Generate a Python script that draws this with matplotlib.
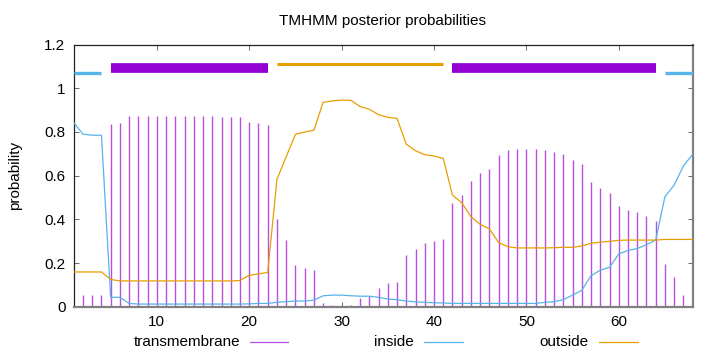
import matplotlib

matplotlib.use("Agg")
import matplotlib.pyplot as plt  # noqa: E402
from matplotlib.lines import Line2D  # noqa: E402
from matplotlib.ticker import FuncFormatter  # noqa: E402

plt.rcParams["font.family"] = ["Liberation Sans", "DejaVu Sans"]

positions = list(range(1, 69))

# posterior probabilities per residue
transmembrane = [
    0.0, 0.054, 0.055, 0.055, 0.837, 0.84, 0.873, 0.873, 0.873, 0.873,
    0.873, 0.873, 0.873, 0.873, 0.873, 0.873, 0.87, 0.87, 0.868, 0.847,
    0.84, 0.83, 0.40, 0.305, 0.19, 0.177, 0.168, 0.018, 0.008, 0.01,
    0.01, 0.04, 0.05, 0.087, 0.107, 0.112, 0.237, 0.266, 0.29, 0.30,
    0.31, 0.476, 0.513, 0.576, 0.614, 0.632, 0.696, 0.717, 0.72, 0.72,
    0.72, 0.716, 0.708, 0.699, 0.673, 0.653, 0.572, 0.545, 0.522, 0.462,
    0.443, 0.434, 0.415, 0.392, 0.195, 0.137, 0.054, 0.0,
]
inside = [
    0.843, 0.79, 0.785, 0.785, 0.043, 0.043, 0.015, 0.012, 0.012, 0.012,
    0.012, 0.012, 0.012, 0.012, 0.012, 0.012, 0.012, 0.012, 0.012, 0.013,
    0.015, 0.015, 0.02, 0.023, 0.026, 0.026, 0.03, 0.05, 0.053, 0.053,
    0.05, 0.048, 0.048, 0.043, 0.035, 0.032, 0.026, 0.022, 0.02, 0.018,
    0.017, 0.015, 0.015, 0.015, 0.015, 0.015, 0.015, 0.015, 0.015, 0.015,
    0.015, 0.02, 0.023, 0.032, 0.053, 0.075, 0.142, 0.167, 0.18, 0.241,
    0.258, 0.266, 0.284, 0.305, 0.504, 0.557, 0.644, 0.698,
]
outside = [
    0.159, 0.159, 0.159, 0.159, 0.125, 0.118, 0.118, 0.118, 0.118, 0.118,
    0.118, 0.118, 0.118, 0.118, 0.118, 0.118, 0.118, 0.118, 0.12, 0.144,
    0.15, 0.157, 0.583, 0.687, 0.789, 0.80, 0.808, 0.936, 0.942, 0.946,
    0.945, 0.916, 0.904, 0.879, 0.867, 0.862, 0.744, 0.714, 0.696, 0.69,
    0.679, 0.511, 0.476, 0.412, 0.377, 0.357, 0.293, 0.275, 0.269, 0.269,
    0.269, 0.269, 0.27, 0.272, 0.272, 0.278, 0.29, 0.296, 0.299, 0.304,
    0.305, 0.305, 0.305, 0.305, 0.308, 0.308, 0.308, 0.308,
]

# predicted topology segments (start, end)
inside_segments = [(1, 4), (65, 68)]
tm_segments = [(5, 22), (42, 64)]
outside_segments = [(23, 41)]

C_TM = "#9400d3"
C_IN = "#56b4e9"
C_OUT = "#e69f00"
FS = 11

fig = plt.figure(figsize=(7.2, 3.52), dpi=100)
ax = fig.add_axes([0.1024, 0.1287, 0.8596, 0.7446])

ax.vlines(positions, 0, transmembrane, color="#b84fe0", lw=1.0, zorder=2)
ax.plot(positions, inside, color=C_IN, lw=0.9, zorder=3)
ax.plot(positions, outside, color=C_OUT, lw=0.9, zorder=3)

for s, e in inside_segments:
    ax.hlines(1.072, s, e, color=C_IN, lw=2.4, zorder=3)
for s, e in tm_segments:
    ax.hlines(1.092, s, e, color=C_TM, lw=7.0, zorder=3)
for s, e in outside_segments:
    ax.hlines(1.113, s, e, color=C_OUT, lw=2.2, zorder=3)

ax.set_xlim(1, 68)
ax.set_ylim(0, 1.2)
ax.set_xticks([10, 20, 30, 40, 50, 60])
ax.set_yticks([0, 0.2, 0.4, 0.6, 0.8, 1.0, 1.2])
ax.yaxis.set_major_formatter(FuncFormatter(lambda v, _: f"{v:g}"))
ax.tick_params(direction="in", top=True, right=True, length=3.5, width=0.6,
               labelsize=FS, color="#555555", pad=6)
for side in ("left", "top"):
    ax.spines[side].set_linewidth(0.9)
    ax.spines[side].set_color("#222222")
for side in ("bottom", "right"):
    ax.spines[side].set_linewidth(1.6)
    ax.spines[side].set_color("#808080")

ax.set_ylabel("probability", fontsize=FS, labelpad=16)
fig.text(0.531, 0.94, "TMHMM posterior probabilities", ha="center",
         va="center", fontsize=FS)

# gnuplot-style key below the plot
key = [("transmembrane", "#b84fe0", 240, 250, 288),
       ("inside", C_IN, 414, 424, 463),
       ("outside", C_OUT, 589, 599, 638)]
ky = 1 - 341.5 / 352
for label, col, tx, x0, x1 in key:
    fig.text(tx / 720, ky, label, ha="right", va="center", fontsize=FS)
    fig.add_artist(Line2D([x0 / 720, x1 / 720], [ky, ky], color=col, lw=0.9,
                          transform=fig.transFigure))

fig.savefig("out.png", dpi=100)
